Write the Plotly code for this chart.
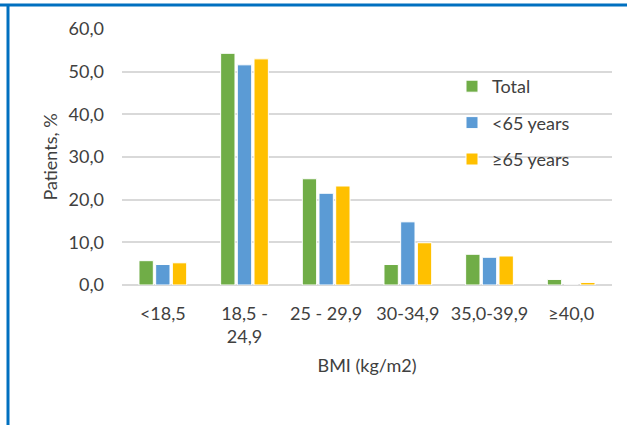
import plotly.graph_objects as go

categories = ["<18,5", "18,5 -<br>24,9", "25 - 29,9", "30-34,9", "35,0-39,9", "≥40,0"]
total = [5.7, 54.3, 24.9, 4.8, 7.2, 1.3]
under65 = [4.8, 51.6, 21.5, 14.8, 6.5, 0.0]
over65 = [5.2, 53.0, 23.2, 9.9, 6.8, 0.6]
y_ticks = [0, 10, 20, 30, 40, 50, 60]
y_ticktext = ["0,0", "10,0", "20,0", "30,0", "40,0", "50,0", "60,0"]

series = [("Total", total, "#70AD47"), ("<65 years", under65, "#5B9BD5"), ("≥65 years", over65, "#FFC000")]

font_family = "Lato, 'Open Sans', sans-serif"
text_color = "#404040"
FS = 18

L, R, T, B = 122, 15, 29, 140
W, H = 627, 425
pw, ph = W - L - R, H - T - B

fig = go.Figure()
for name, vals, color in series:
    fig.add_trace(go.Bar(
        x=categories, y=vals, name=name, legendgroup=name,
        marker=dict(color=color, line=dict(color="white", width=1)),
    ))

fig.update_layout(
    width=W, height=H,
    margin=dict(l=L, r=R, t=T, b=B),
    paper_bgcolor="white", plot_bgcolor="white",
    font=dict(family=font_family, size=FS, color=text_color),
    barmode="group", bargap=0.387, bargroupgap=0.14,
    showlegend=True,
    legend=dict(x=(452 - L) / pw, y=1 - (68 - T) / ph, xanchor="left", yanchor="top",
                font=dict(size=FS, color=text_color),
                tracegroupgap=10, bgcolor="rgba(0,0,0,0)",
                itemwidth=30),
    xaxis=dict(showgrid=False, showline=False, ticks="", tickfont=dict(size=FS),
               ticklabelstandoff=16,
               title=dict(text="BMI (kg/m2)", font=dict(size=FS), standoff=12)),
    yaxis=dict(range=[0, 60], tickvals=y_ticks, ticktext=y_ticktext,
               showgrid=True, gridcolor="#D9D9D9", gridwidth=1.5,
               zeroline=True, zerolinecolor="#D9D9D9", zerolinewidth=1.5,
               showline=False, ticks="", ticklabelstandoff=17,
               tickfont=dict(size=FS),
               title=dict(text="Patients, %", font=dict(size=FS), standoff=6)),
    shapes=[
        dict(type="line", xref="paper", yref="paper", x0=-L / pw, x1=1 + R / pw,
             y0=1 + (T - 5) / ph, y1=1 + (T - 5) / ph, line=dict(color="#0070C0", width=3)),
        dict(type="line", xref="paper", yref="paper", x0=-(L - 8) / pw, x1=-(L - 8) / pw,
             y0=1 + (T - 4) / ph, y1=-B / ph, line=dict(color="#0070C0", width=3)),
    ],
)

fig.write_html("out.html", config={"displayModeBar": False},
               post_script="document.body.style.margin='0';")
